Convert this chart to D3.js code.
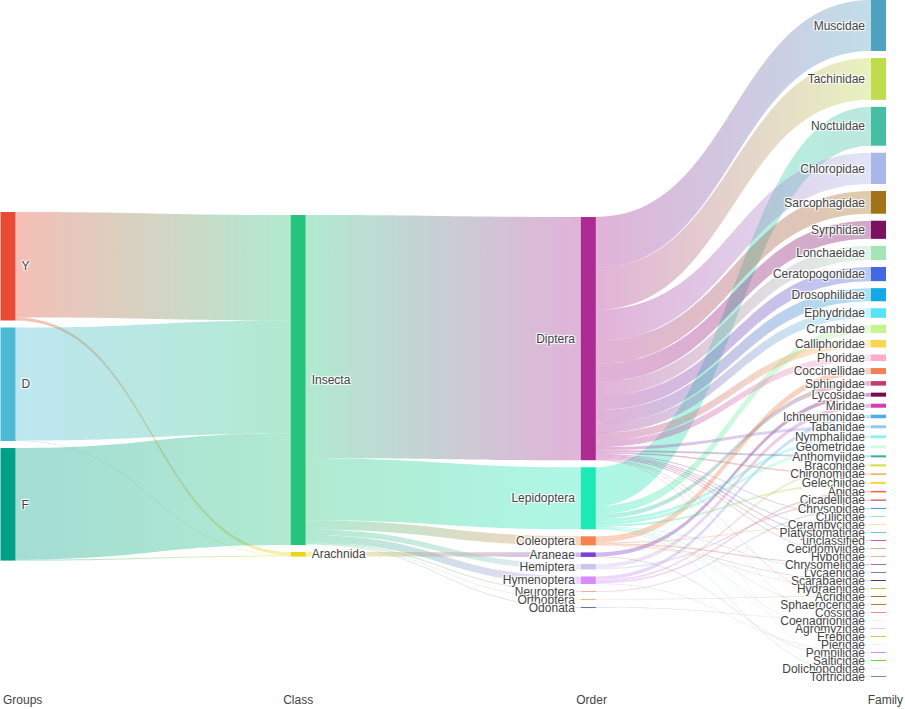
<!DOCTYPE html>
<html>
<head>
<meta charset="utf-8">
<script src="https://cdn.jsdelivr.net/npm/d3@7"></script>
<style>
  body { margin: 0; background: #fff; }
  text { font-family: "Liberation Sans", Arial, sans-serif; font-size: 12px; fill: #444; }
  .node-label { text-shadow: 1px 1px 1px #fff, -1px -1px 1px #fff, 1px -1px 1px #fff, -1px 1px 1px #fff; }
</style>
</head>
<body>
<svg id="chart" width="905" height="709"></svg>
<script>
// column titles along the bottom
var columnTitles = ["Groups", "Class", "Order", "Family"];

// first column: sampling groups
var groups = ["Y", "D", "F"];
var groupColors = ["#E64B35", "#4DBBD5", "#00A087"];
var groupToInsecta = [209, 224, 221];
var groupToArachnida = [6, 1, 2];

// second column
var classes = ["Insecta", "Arachnida"];
var classColors = ["#27c47e", "#e6d90f"];

// third column, with the class each order belongs to
var orders = ["Diptera", "Lepidoptera", "Coleoptera", "Araneae", "Hemiptera",
              "Hymenoptera", "Neuroptera", "Orthoptera", "Odonata"];
var orderClass = ["Insecta", "Insecta", "Insecta", "Arachnida", "Insecta",
                  "Insecta", "Insecta", "Insecta", "Insecta"];
var orderColors = ["#ab2b93", "#1de9b6", "#f5834b", "#7b3fd8", "#c9c7e8",
                   "#d58cf9", "#f7a3a3", "#eab48a", "#5f6b9f"];

// last column: families, their order and counts
var families = ["Muscidae", "Tachinidae", "Noctuidae", "Chloropidae", "Sarcophagidae",
  "Syrphidae", "Lonchaeidae", "Ceratopogonidae", "Drosophilidae", "Ephydridae",
  "Crambidae", "Calliphoridae", "Phoridae", "Coccinellidae", "Sphingidae",
  "Lycosidae", "Miridae", "Ichneumonidae", "Tabanidae", "Nymphalidae",
  "Geometridae", "Anthomyiidae", "Braconidae", "Chironomidae", "Gelechiidae",
  "Apidae", "Cicadellidae", "Chrysopidae", "Culicidae", "Cerambycidae",
  "Platystomatidae", "unclassified", "Cecidomyiidae", "Hybotidae", "Chrysomelidae",
  "Lycaenidae", "Scarabaeidae", "Hydraenidae", "Acrididae", "Sphaeroceridae",
  "Cossidae", "Coenagrionidae", "Agromyzidae", "Erebidae", "Pieridae",
  "Pompilidae", "Salticidae", "Dolichopodidae", "Tortricidae"];
var familyOrder = ["Diptera", "Diptera", "Lepidoptera", "Diptera", "Diptera",
  "Diptera", "Diptera", "Diptera", "Diptera", "Diptera",
  "Lepidoptera", "Diptera", "Diptera", "Coleoptera", "Lepidoptera",
  "Araneae", "Hemiptera", "Hymenoptera", "Diptera", "Lepidoptera",
  "Lepidoptera", "Diptera", "Hymenoptera", "Diptera", "Lepidoptera",
  "Hymenoptera", "Hemiptera", "Neuroptera", "Diptera", "Coleoptera",
  "Diptera", "Diptera", "Diptera", "Diptera", "Coleoptera",
  "Lepidoptera", "Coleoptera", "Coleoptera", "Orthoptera", "Diptera",
  "Lepidoptera", "Odonata", "Diptera", "Lepidoptera", "Lepidoptera",
  "Hymenoptera", "Araneae", "Diptera", "Lepidoptera"];
var familyValues = [101, 83, 77, 62, 45,
  36, 28, 28, 26, 19,
  16, 15, 13, 12, 9,
  8, 8, 7, 6, 6,
  6, 4, 4, 3, 4,
  3, 3, 2, 2, 2,
  2, 2, 2, 2, 2,
  1, 1, 1, 1, 1,
  1, 1, 1, 1, 1,
  1, 1, 1, 1];
var familyColors = ["#4fa3bf", "#bedc4c", "#45bea3", "#a9b7e9", "#a1731a",
  "#7b1160", "#a6e3b8", "#4169e1", "#11a9e8", "#55e4f7",
  "#c5f58d", "#ffd54f", "#ffadc5", "#f08157", "#c43b6e",
  "#7a0a4f", "#d43fae", "#4aaef0", "#92c9f0", "#92f0ec",
  "#d0f8e2", "#3fae9c", "#d0e042", "#f2aa44", "#f8d840",
  "#f06050", "#d07070", "#4090e0", "#a2dccf", "#f0e4a2",
  "#62c2ea", "#c2638a", "#c2b28e", "#e8b9a2", "#b07090",
  "#7080b0", "#404070", "#c2c242", "#b06a22", "#a88444",
  "#f0829a", "#f4f2fa", "#f0c8f0", "#d0d042", "#f6f4f6",
  "#c890f8", "#70d032", "#f4f4f4", "#70a072"];

// ---- layout settings ----
var nodeWidth = 15, nodePad = 7, minNodeH = 1, plotHeight = 677, linkOpacity = 0.36;
var colX = d3.scaleLinear().domain([0, 3]).range([0.5, 871]);
var colTop = [212, 215, 217, 0];
var titleX = d3.scaleLinear().domain([0, 1]).range([3, 903]);
var titlePos = [0, 0.328, 0.654, 1];
var titleAnchor = ["start", "middle", "middle", "end"];

var svg = d3.select("#chart");
var defs = svg.append("defs");

// build nodes and links
var nodes = [];
function addColumn(names, colors, col) {
    return names.map(function(n, i) {
        var d = {name: n, color: colors[i], col: col, sourceLinks: [], targetLinks: []};
        nodes.push(d);
        return d;
    });
}
var groupNodes = addColumn(groups, groupColors, 0);
var classNodes = addColumn(classes, classColors, 1);
var orderNodes = addColumn(orders, orderColors, 2);
var familyNodes = addColumn(families, familyColors, 3);

var links = [];
function addLink(s, t, v) {
    if (!v) return;
    var l = {source: s, target: t, value: v};
    s.sourceLinks.push(l);
    t.targetLinks.push(l);
    links.push(l);
}

groups.forEach(function(g, i) {
    addLink(groupNodes[i], classNodes[0], groupToInsecta[i]);
    addLink(groupNodes[i], classNodes[1], groupToArachnida[i]);
});

var orderTotals = d3.rollup(d3.range(families.length),
    function(idx) { return d3.sum(idx, function(j) { return familyValues[j]; }); },
    function(j) { return familyOrder[j]; });

orders.forEach(function(o, i) {
    addLink(classNodes[classes.indexOf(orderClass[i])], orderNodes[i], orderTotals.get(o));
});
families.forEach(function(f, j) {
    addLink(orderNodes[orders.indexOf(familyOrder[j])], familyNodes[j], familyValues[j]);
});

nodes.forEach(function(n) {
    n.value = Math.max(d3.sum(n.sourceLinks, function(l) { return l.value; }),
                       d3.sum(n.targetLinks, function(l) { return l.value; }));
});

var columns = [groupNodes, classNodes, orderNodes, familyNodes];

// find the value scale so the tallest column fits
function columnSpan(col, k) {
    return d3.sum(col, function(n) { return Math.max(minNodeH, n.value * k); }) + (col.length - 1) * nodePad;
}
var ky = 1;
for (var it = 0; it < 30; it++) {
    var tallest = d3.max(columns, function(c) { return columnSpan(c, ky) - (c.length - 1) * nodePad; });
    var room = d3.min(columns, function(c) { return plotHeight - (c.length - 1) * nodePad; });
    ky = ky * room / tallest;
}
var valueScale = d3.scaleLinear().domain([0, 1]).range([0, ky]);

// stack nodes in each column
columns.forEach(function(col, c) {
    var y = colTop[c];
    col.forEach(function(n) {
        n.x0 = colX(c);
        n.x1 = n.x0 + nodeWidth;
        n.y0 = y;
        n.y1 = y + Math.max(minNodeH, valueScale(n.value));
        y = n.y1 + nodePad;
    });
});

// link slots
nodes.forEach(function(n) {
    n.sourceLinks.sort(function(a, b) { return a.target.y0 - b.target.y0; });
    n.targetLinks.sort(function(a, b) { return a.source.y0 - b.source.y0; });
    var y = n.y0;
    n.sourceLinks.forEach(function(l) { l.width = valueScale(l.value); l.sy = y; y += l.width; });
    y = n.y0;
    n.targetLinks.forEach(function(l) { l.ty = y; y += valueScale(l.value); });
});

function ribbon(l) {
    var x0 = l.source.x1, x1 = l.target.x0;
    var xi = d3.interpolateNumber(x0, x1);
    var c0 = xi(0.5), c1 = xi(0.5);
    var p = d3.path();
    p.moveTo(x0, l.sy);
    p.bezierCurveTo(c0, l.sy, c1, l.ty, x1, l.ty);
    p.lineTo(x1, l.ty + l.width);
    p.bezierCurveTo(c1, l.ty + l.width, c0, l.sy + l.width, x0, l.sy + l.width);
    p.closePath();
    return p.toString();
}

links.forEach(function(l, i) {
    l.gid = "lg" + i;
    var g = defs.append("linearGradient")
        .attr("id", l.gid)
        .attr("gradientUnits", "userSpaceOnUse")
        .attr("x1", l.source.x1).attr("x2", l.target.x0)
        .attr("y1", 0).attr("y2", 0);
    g.append("stop").attr("offset", "0%").attr("stop-color", l.source.color);
    g.append("stop").attr("offset", "100%").attr("stop-color", l.target.color);
});

svg.append("g")
    .selectAll("path")
    .data(links)
    .enter()
    .append("path")
    .attr("d", ribbon)
    .attr("fill", function(l) { return "url(#" + l.gid + ")"; })
    .attr("fill-opacity", linkOpacity);

svg.append("g")
    .selectAll("rect")
    .data(nodes)
    .enter()
    .append("rect")
    .attr("x", function(n) { return n.x0; })
    .attr("y", function(n) { return n.y0; })
    .attr("width", nodeWidth)
    .attr("height", function(n) { return n.y1 - n.y0; })
    .attr("fill", function(n) { return n.color; });

// labels: right of the node in the left half, left of it in the right half
svg.append("g")
    .selectAll("text")
    .data(nodes)
    .enter()
    .append("text")
    .attr("class", "node-label")
    .attr("x", function(n) { return n.col < 2 ? n.x1 + 6 : n.x0 - 6; })
    .attr("y", function(n) { return (n.y0 + n.y1) / 2; })
    .attr("dy", "0.35em")
    .attr("text-anchor", function(n) { return n.col < 2 ? "start" : "end"; })
    .text(function(n) { return n.name; });

svg.append("g")
    .selectAll("text")
    .data(columnTitles)
    .enter()
    .append("text")
    .attr("x", function(d, i) { return titleX(titlePos[i]); })
    .attr("y", 704)
    .attr("text-anchor", function(d, i) { return titleAnchor[i]; })
    .text(function(d) { return d; });
</script>
</body>
</html>
